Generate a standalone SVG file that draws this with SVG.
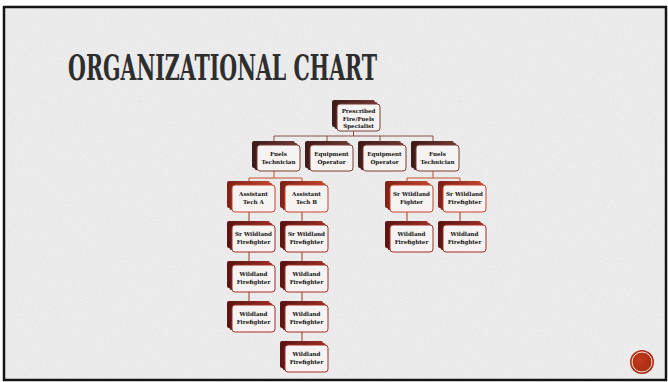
<svg xmlns="http://www.w3.org/2000/svg" width="668" height="382" viewBox="0 0 668 382">
<defs>
<filter id="noise" x="0" y="0" width="100%" height="100%">
<feTurbulence type="fractalNoise" baseFrequency="0.8" numOctaves="2" seed="4" result="n"/>
<feColorMatrix in="n" type="matrix" values="0 0 0 0 1  0 0 0 0 1  0 0 0 0 1  0 0 0 -1.2 0.9" />
</filter>
<linearGradient id="gDark" x1="0" y1="0" x2="1" y2="0">
<stop offset="0" stop-color="#3e1b19"/><stop offset="1" stop-color="#6e3833"/>
</linearGradient>
<linearGradient id="gRed" x1="0" y1="0" x2="1" y2="0">
<stop offset="0" stop-color="#7e2218"/><stop offset="1" stop-color="#c0452d"/>
</linearGradient>
<linearGradient id="gMaroon" x1="0" y1="0" x2="1" y2="0">
<stop offset="0" stop-color="#5a1512"/><stop offset="1" stop-color="#9a2e26"/>
</linearGradient>
<radialGradient id="gDot" cx="0.4" cy="0.4" r="0.7">
<stop offset="0" stop-color="#c23a1c"/><stop offset="1" stop-color="#a2280f"/>
</radialGradient>
</defs>
<style>
.t{font-family:"DejaVu Serif","Liberation Serif",serif;font-weight:bold;font-size:5.6px;fill:#111;text-anchor:middle}
.f1{fill:#f7f3f2;stroke:#7d3c34;stroke-width:1}
.f3{fill:#f7f3f2;stroke:#c2452b;stroke-width:1}
.f4{fill:#f7f3f2;stroke:#9e2f26;stroke-width:1}
.sd{fill:url(#gDark)}
.sr{fill:url(#gRed)}
.sm{fill:url(#gMaroon)}
.c1{fill:none;stroke:#8a5048;stroke-width:1}
.c3{fill:none;stroke:#c8502e;stroke-width:1}
.c4{fill:none;stroke:#a0342b;stroke-width:1}
</style>
<rect x="0" y="0" width="668" height="382" fill="#ffffff"/>
<rect x="4" y="7" width="662" height="373" fill="#e7e7e7"/>
<rect x="4" y="7" width="662" height="373" fill="#ffffff" filter="url(#noise)" opacity="0.5"/>
<rect x="4" y="7" width="662" height="373" fill="none" stroke="#141414" stroke-width="2.5"/>
<text x="68" y="80" font-family="DejaVu Serif Condensed,DejaVu Serif,serif" font-weight="bold" font-size="36" fill="#2e2e2e" textLength="309" lengthAdjust="spacingAndGlyphs">ORGANIZATIONAL CHART</text>

<g id="connectors">
<path class="c1" d="M353.5 131V136M274 136H433M274 136V141M327 136V141M380 136V141M433 136V141"/>
<path class="c3" d="M274 171V178M249 178H302M249 178V181M302 178V181M433 171V178M407 178H460M407 178V181M460 178V181"/>
<path class="c4" d="M249 212V221M302 212V221M249 252V261M302 252V261M249 292V301M302 292V301M302 332V341M407 212V221M460 212V221"/>
</g>

<g id="n-top">
<rect class="sd" x="332" y="100" width="43" height="27" rx="2"/>
<rect class="sd" x="334.5" y="102" width="43" height="27" rx="2"/>
<rect class="f1" x="337" y="104" width="43" height="27" rx="3"/>
<text class="t" x="358.5" y="113">Prescribed</text>
<text class="t" x="358.5" y="120.5">Fire/Fuels</text>
<text class="t" x="358.5" y="128">Specialist</text>
</g>

<g id="n-ft1">
<rect class="sd" x="252" y="141" width="43" height="27" rx="2"/>
<rect class="sd" x="254.5" y="143" width="43" height="27" rx="2"/>
<rect class="f1" x="257" y="145" width="43" height="26" rx="3"/>
<text class="t" x="278.5" y="156">Fuels</text>
<text class="t" x="278.5" y="163.5">Technician</text>
</g>
<g id="n-eo1">
<rect class="sd" x="305" y="141" width="43" height="27" rx="2"/>
<rect class="sd" x="307.5" y="143" width="43" height="27" rx="2"/>
<rect class="f1" x="310" y="145" width="43" height="26" rx="3"/>
<text class="t" x="331.5" y="156">Equipment</text>
<text class="t" x="331.5" y="163.5">Operator</text>
</g>
<g id="n-eo2">
<rect class="sd" x="358" y="141" width="43" height="27" rx="2"/>
<rect class="sd" x="360.5" y="143" width="43" height="27" rx="2"/>
<rect class="f1" x="363" y="145" width="43" height="26" rx="3"/>
<text class="t" x="384.5" y="156">Equipment</text>
<text class="t" x="384.5" y="163.5">Operator</text>
</g>
<g id="n-ft2">
<rect class="sd" x="411" y="141" width="43" height="27" rx="2"/>
<rect class="sd" x="413.5" y="143" width="43" height="27" rx="2"/>
<rect class="f1" x="416" y="145" width="43" height="26" rx="3"/>
<text class="t" x="437.5" y="156">Fuels</text>
<text class="t" x="437.5" y="163.5">Technician</text>
</g>

<g id="n-ata">
<rect class="sr" x="227" y="181" width="43" height="27" rx="2"/>
<rect class="sr" x="229.5" y="183" width="43" height="27" rx="2"/>
<rect class="f3" x="232" y="185" width="43" height="27" rx="3"/>
<text class="t" x="253.5" y="196">Assistant</text>
<text class="t" x="253.5" y="203.5">Tech A</text>
</g>
<g id="n-atb">
<rect class="sr" x="280" y="181" width="43" height="27" rx="2"/>
<rect class="sr" x="282.5" y="183" width="43" height="27" rx="2"/>
<rect class="f3" x="285" y="185" width="43" height="27" rx="3"/>
<text class="t" x="306.5" y="196">Assistant</text>
<text class="t" x="306.5" y="203.5">Tech B</text>
</g>
<g id="n-swf">
<rect class="sr" x="385" y="181" width="43" height="27" rx="2"/>
<rect class="sr" x="387.5" y="183" width="43" height="27" rx="2"/>
<rect class="f3" x="390" y="185" width="43" height="27" rx="3"/>
<text class="t" x="411.5" y="196">Sr Wildland</text>
<text class="t" x="411.5" y="203.5">Fighter</text>
</g>
<g id="n-swff">
<rect class="sr" x="438" y="181" width="43" height="27" rx="2"/>
<rect class="sr" x="440.5" y="183" width="43" height="27" rx="2"/>
<rect class="f3" x="443" y="185" width="43" height="27" rx="3"/>
<text class="t" x="464.5" y="196">Sr Wildland</text>
<text class="t" x="464.5" y="203.5">Firefighter</text>
</g>

<g id="n-a-sr">
<rect class="sm" x="227" y="221" width="43" height="27" rx="2"/>
<rect class="sm" x="229.5" y="223" width="43" height="27" rx="2"/>
<rect class="f4" x="232" y="225" width="43" height="27" rx="3"/>
<text class="t" x="253.5" y="236">Sr Wildland</text>
<text class="t" x="253.5" y="243.5">Firefighter</text>
</g>
<g id="n-a-w1">
<rect class="sm" x="227" y="261" width="43" height="27" rx="2"/>
<rect class="sm" x="229.5" y="263" width="43" height="27" rx="2"/>
<rect class="f4" x="232" y="265" width="43" height="27" rx="3"/>
<text class="t" x="253.5" y="276">Wildland</text>
<text class="t" x="253.5" y="283.5">Firefighter</text>
</g>
<g id="n-a-w2">
<rect class="sm" x="227" y="301" width="43" height="27" rx="2"/>
<rect class="sm" x="229.5" y="303" width="43" height="27" rx="2"/>
<rect class="f4" x="232" y="305" width="43" height="27" rx="3"/>
<text class="t" x="253.5" y="316">Wildland</text>
<text class="t" x="253.5" y="323.5">Firefighter</text>
</g>

<g id="n-b-sr">
<rect class="sm" x="280" y="221" width="43" height="27" rx="2"/>
<rect class="sm" x="282.5" y="223" width="43" height="27" rx="2"/>
<rect class="f4" x="285" y="225" width="43" height="27" rx="3"/>
<text class="t" x="306.5" y="236">Sr Wildland</text>
<text class="t" x="306.5" y="243.5">Firefighter</text>
</g>
<g id="n-b-w1">
<rect class="sm" x="280" y="261" width="43" height="27" rx="2"/>
<rect class="sm" x="282.5" y="263" width="43" height="27" rx="2"/>
<rect class="f4" x="285" y="265" width="43" height="27" rx="3"/>
<text class="t" x="306.5" y="276">Wildland</text>
<text class="t" x="306.5" y="283.5">Firefighter</text>
</g>
<g id="n-b-w2">
<rect class="sm" x="280" y="301" width="43" height="27" rx="2"/>
<rect class="sm" x="282.5" y="303" width="43" height="27" rx="2"/>
<rect class="f4" x="285" y="305" width="43" height="27" rx="3"/>
<text class="t" x="306.5" y="316">Wildland</text>
<text class="t" x="306.5" y="323.5">Firefighter</text>
</g>
<g id="n-b-w3">
<rect class="sm" x="280" y="341" width="43" height="27" rx="2"/>
<rect class="sm" x="282.5" y="343" width="43" height="27" rx="2"/>
<rect class="f4" x="285" y="345" width="43" height="27" rx="3"/>
<text class="t" x="306.5" y="356">Wildland</text>
<text class="t" x="306.5" y="363.5">Firefighter</text>
</g>

<g id="n-r-w1">
<rect class="sm" x="385" y="221" width="43" height="27" rx="2"/>
<rect class="sm" x="387.5" y="223" width="43" height="27" rx="2"/>
<rect class="f4" x="390" y="225" width="43" height="27" rx="3"/>
<text class="t" x="411.5" y="236">Wildland</text>
<text class="t" x="411.5" y="243.5">Firefighter</text>
</g>
<g id="n-r-w2">
<rect class="sm" x="438" y="221" width="43" height="27" rx="2"/>
<rect class="sm" x="440.5" y="223" width="43" height="27" rx="2"/>
<rect class="f4" x="443" y="225" width="43" height="27" rx="3"/>
<text class="t" x="464.5" y="236">Wildland</text>
<text class="t" x="464.5" y="243.5">Firefighter</text>
</g>

<g id="badge">
<circle cx="642" cy="362" r="12" fill="url(#gDot)"/>
<circle cx="642" cy="362" r="10" fill="none" stroke="#f4e6e0" stroke-width="1"/>
</g>
</svg>
